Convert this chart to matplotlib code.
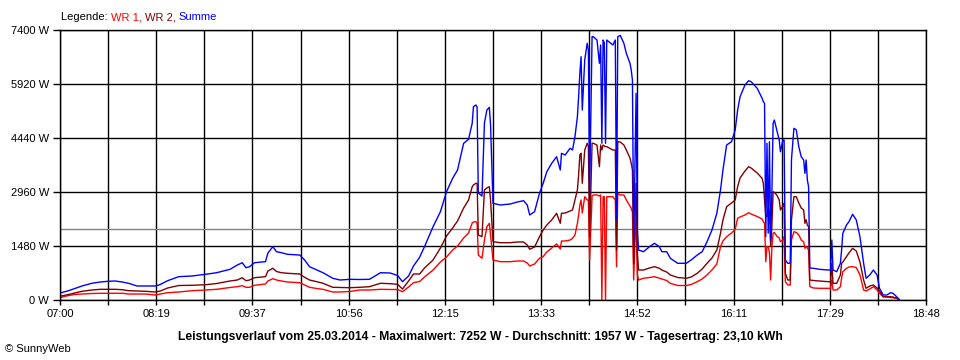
import matplotlib
matplotlib.use("Agg")
import matplotlib.pyplot as plt

plt.rcParams["font.family"] = ["Liberation Sans", "DejaVu Sans"]
plt.rcParams["font.size"] = 8

# Zeitpunkte (HH:MM) und Leistung in W
times = [
    "07:01", "07:07", "07:12", "07:18", "07:26", "07:33", "07:39", "07:45", "07:51", "07:56",
    "08:03", "08:10", "08:18", "08:22", "08:28", "08:37", "08:48", "08:59", "09:08", "09:19",
    "09:25", "09:29", "09:32", "09:35", "09:39", "09:48", "09:50", "09:54", "09:57", "10:01",
    "10:06", "10:16", "10:20", "10:24", "10:30", "10:35", "10:43", "10:49", "10:57", "11:05",
    "11:13", "11:22", "11:30", "11:36", "11:40", "11:45", "11:49", "11:54", "11:58", "12:05",
    "12:11", "12:16", "12:21", "12:25", "12:30", "12:34", "12:37", "12:38", "12:40", "12:41",
    "12:42", "12:45", "12:47", "12:49", "12:51", "12:52", "12:54", "13:00", "13:08", "13:14",
    "13:19", "13:22", "13:24", "13:28", "13:32", "13:35", "13:38", "13:42", "13:46", "13:49",
    "13:50", "13:53", "13:57", "13:59", "14:01", "14:03", "14:04", "14:05", "14:06", "14:07",
    "14:09", "14:11", "14:12", "14:13", "14:15", "14:16", "14:19", "14:21", "14:22", "14:23",
    "14:24", "14:25", "14:26", "14:27", "14:32", "14:34", "14:35", "14:36", "14:38", "14:41",
    "14:43", "14:46", "14:47", "14:48", "14:49", "14:51", "14:52", "14:53", "14:57", "15:02",
    "15:06", "15:10", "15:12", "15:16", "15:19", "15:25", "15:32", "15:36", "15:41", "15:45",
    "15:49", "15:53", "15:57", "16:00", "16:02", "16:05", "16:09", "16:12", "16:14", "16:16",
    "16:20", "16:23", "16:25", "16:30", "16:34", "16:35", "16:36", "16:37", "16:38", "16:39",
    "16:40", "16:41", "16:42", "16:43", "16:44", "16:46", "16:48", "16:49", "16:51", "16:52",
    "16:53", "16:55", "16:57", "16:58", "17:00", "17:02", "17:04", "17:06", "17:08", "17:09",
    "17:10", "17:11", "17:12", "17:13", "17:16", "17:21", "17:28", "17:30", "17:31", "17:32",
    "17:35", "17:38", "17:39", "17:40", "17:43", "17:45", "17:48", "17:51", "17:54", "17:57",
    "17:59", "18:02", "18:05", "18:08", "18:10", "18:13", "18:16", "18:19", "18:21", "18:24",
    "18:26",
]

summe = [
    200, 255, 315, 384, 458, 493, 512, 521, 493, 458,
    384, 384, 384, 425, 529, 639, 658, 704, 748, 841,
    959, 1022, 885, 913, 1022, 1050, 1288, 1461, 1324, 1296,
    1252, 1233, 1096, 913, 822, 748, 595, 548, 567, 562,
    567, 748, 740, 671, 502, 658, 932, 1170, 1461, 2009,
    2420, 2968, 3335, 3563, 4295, 4404, 4843, 5298, 5345, 5290,
    2933, 2850, 4851, 5207, 5281, 4796, 2650, 2604, 2631, 2686,
    2722, 2604, 2330, 2420, 2924, 3198, 3516, 3747, 3927, 3563,
    4020, 3974, 4158, 4111, 4476, 5024, 5572, 6213, 6668, 5207,
    6578, 7035, 6852, 2933, 7217, 7217, 7126, 6487, 6989, 4295,
    7126, 7050, 4295, 7126, 6989, 7126, 2193, 7217, 7252, 7035,
    6761, 6487, 6304, 6030, 1507, 5665, 1918, 1370, 1324, 1461,
    1554, 1461, 1324, 1324, 1143, 1006, 1006, 1096, 1233, 1324,
    1598, 1918, 2376, 3015, 3563, 4248, 4339, 4659, 5207, 5572,
    5892, 6010, 5983, 5802, 5528, 5435, 5390, 1735, 4295, 1836,
    4339, 1644, 2933, 4843, 4933, 4659, 4385, 4064, 4385, 4385,
    1096, 1006, 1010, 3837, 4706, 4659, 4201, 3927, 3837, 3472,
    3837, 3289, 3105, 877, 869, 841, 822, 822, 1644, 822,
    776, 1006, 1370, 1828, 2055, 2146, 2349, 2193, 1735, 1006,
    595, 685, 822, 685, 320, 137, 137, 200, 184, 90,
    19,
]

wr2 = [
    110, 151, 192, 238, 274, 293, 293, 293, 282, 255,
    247, 238, 219, 247, 329, 397, 403, 419, 452, 521,
    548, 611, 529, 548, 611, 639, 795, 869, 781, 748,
    732, 713, 622, 548, 502, 458, 348, 343, 337, 348,
    365, 458, 447, 430, 301, 521, 713, 713, 877, 1096,
    1425, 1754, 1973, 2165, 2521, 2741, 3105, 3152, 3198, 3198,
    1781, 1735, 3015, 3070, 3105, 2741, 1598, 1570, 1570, 1590,
    1590, 1507, 1390, 1453, 1735, 1918, 2055, 2193, 2376, 2102,
    2376, 2384, 2439, 2467, 2741, 3015, 3426, 3974, 4020, 3198,
    4111, 4295, 4200, 1735, 4295, 4295, 4248, 3653, 4248, 4111,
    4248, 4220, 4203, 4203, 4111, 4111, 1370, 4339, 4330, 4248,
    4111, 3892, 3747, 3563, 1000, 3198, 1233, 822, 822, 877,
    913, 869, 822, 767, 685, 617, 595, 630, 732, 850,
    1006, 1151, 1370, 1828, 2193, 2557, 2659, 2741, 3105, 3344,
    3536, 3653, 3618, 3481, 3335, 3198, 2741, 2283, 2283, 2557,
    2400, 1461, 2009, 2968, 2950, 2878, 2741, 2467, 2576, 2650,
    732, 548, 548, 2193, 2831, 2831, 2659, 2521, 2467, 2102,
    2200, 2055, 2009, 548, 534, 521, 502, 502, 1006, 458,
    458, 685, 1006, 1041, 1187, 1288, 1417, 1343, 1041, 548,
    320, 384, 411, 329, 247, 90, 90, 90, 82, 47,
    14,
]

wr1 = [
    74, 123, 151, 164, 178, 184, 184, 184, 184, 164,
    164, 164, 137, 164, 200, 219, 255, 274, 293, 343,
    365, 392, 348, 348, 403, 439, 521, 584, 548, 521,
    493, 474, 411, 348, 315, 293, 219, 219, 233, 274,
    274, 293, 288, 288, 227, 356, 474, 507, 630, 822,
    1041, 1178, 1370, 1480, 1699, 1836, 2110, 2138, 2146, 2102,
    1233, 1143, 1644, 2009, 2102, 1781, 1096, 1050, 1050, 1069,
    1069, 1014, 932, 987, 1143, 1187, 1316, 1425, 1535, 1398,
    1617, 1617, 1644, 1691, 1781, 2102, 2330, 2604, 2741, 2384,
    2831, 2741, 2740, 1096, 2850, 2878, 2878, 2850, 2878, 0,
    2831, 2830, 0, 2831, 2831, 2741, 913, 2924, 2878, 2878,
    2741, 2576, 2513, 2412, 548, 2400, 685, 548, 595, 617,
    639, 595, 576, 534, 458, 397, 397, 425, 502, 576,
    685, 822, 987, 1461, 1617, 1735, 1836, 1938, 2239, 2275,
    2330, 2393, 2357, 2288, 2220, 2146, 2102, 1050, 1461, 1461,
    1300, 548, 1461, 1828, 1850, 1754, 1699, 1598, 1644, 1735,
    502, 411, 411, 1644, 1872, 1850, 1781, 1644, 1590, 1417,
    1461, 1425, 1370, 365, 329, 320, 320, 320, 548, 274,
    274, 365, 603, 776, 869, 904, 913, 891, 685, 274,
    247, 301, 365, 274, 184, 90, 82, 69, 63, 47,
    14,
]

durchschnitt = 1957

x_labels = ["07:00", "08:19", "09:37", "10:56", "12:15", "13:33", "14:52", "16:11", "17:29", "18:48"]
y_labels = ["0 W", "1480 W", "2960 W", "4440 W", "5920 W", "7400 W"]

minutes = [int(t[:2]) * 60 + int(t[3:]) for t in times]

fig = plt.figure(figsize=(9.6, 3.6), dpi=100)
ax = fig.add_axes([60 / 960, 60 / 360, 866 / 960, 270 / 360])

t0, t1 = 7 * 60, 18 * 60 + 48
ax.set_xlim(t0, t1)
ax.set_ylim(0, 7400)

step = (t1 - t0) / 18
xt = [t0 + i * step for i in range(19)]
ax.set_xticks(xt)
ax.set_xticklabels([x_labels[i // 2] if i % 2 == 0 else "" for i in range(19)])
ax.set_yticks([i * 1480 for i in range(6)])
ax.set_yticklabels(y_labels)

ax.grid(True, color="black", linewidth=1.0)
ax.set_axisbelow(True)
for s in ax.spines.values():
    s.set_color("black")
    s.set_linewidth(1.0)
ax.tick_params(axis="x", length=3.6, width=1.0, pad=3, labelsize=8)
ax.tick_params(axis="y", length=5, width=1.0, pad=3, labelsize=8)

ax.axhline(durchschnitt, color="#808080", linewidth=1.0)
ax.plot(minutes, wr1, color="#ff0000", linewidth=1.0)
ax.plot(minutes, wr2, color="#800000", linewidth=1.0)
ax.plot(minutes, summe, color="#0000ff", linewidth=1.0)

# Legende als farbiger Text
fig.canvas.draw()
renderer = fig.canvas.get_renderer()
x = 61 / 960
for txt, col in [("Legende: ", "black"), ("WR 1, ", "#ff0000"), ("WR 2, ", "#800000"), ("Summe", "#0000ff")]:
    t = fig.text(x, 1 - 17 / 360, txt, color=col, fontsize=8, va="center", ha="left")
    bb = t.get_window_extent(renderer)
    x += bb.width / 960

fig.text(0.5, 1 - 337 / 360,
         "Leistungsverlauf vom 25.03.2014 - Maximalwert: 7252 W - Durchschnitt: 1957 W - Tagesertrag: 23,10 kWh",
         ha="center", va="center", fontsize=8.7, fontweight="bold")
fig.text(5 / 960, 1 - 349 / 360, "\u00a9 SunnyWeb", ha="left", va="center", fontsize=8)

fig.savefig("out.png", dpi=100)
